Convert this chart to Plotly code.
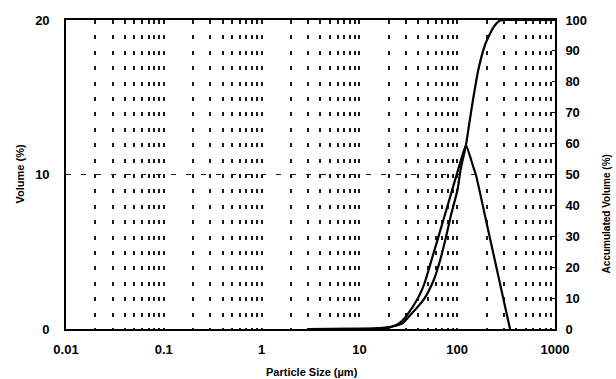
import plotly.graph_objects as go

# ---- data ----
freq_size = [3, 8, 12.8, 18.3, 23.1, 26.0, 29.5, 32.9, 37.0, 41.7, 46.0, 50.6, 64.1, 76.8, 102.6, 123, 146.1, 155.6, 208, 253.5, 303, 347]
freq_val = [0, 0.01, 0.02, 0.085, 0.23, 0.42, 0.75, 1.17, 1.67, 2.27, 2.9, 3.75, 5.95, 7.63, 10.35, 11.91, 10.49, 9.97, 6.36, 3.90, 1.68, 0]

cum_size = [3, 8, 12.8, 18.3, 27.3, 33.2, 45.2, 57.6, 67.0, 76.8, 86.4, 100.7, 108.1, 123.0, 133.6, 146.1, 164.3, 192.4, 233.9, 273.9, 308, 1000]
cum_val = [0, 0.02, 0.06, 0.26, 1.78, 4.53, 9.39, 15.86, 22.33, 29.77, 36.89, 44.98, 51.46, 59.55, 66.99, 74.76, 83.82, 91.91, 97.57, 99.84, 100, 100]

decades = [0.01, 0.1, 1, 10, 100, 1000]
decade_labels = ["0.01", "0.1", "1", "10", "100", "1000"]
multipliers = [1, 2, 3, 4, 5, 6, 7, 8, 9]

left_ticks = [0, 10, 20]
right_ticks = [0, 10, 20, 30, 40, 50, 60, 70, 80, 90, 100]

# grid / tick positions on the log axis
x_tickvals = []
x_ticktext = []
for d, lab in zip(decades, decade_labels):
    if d == 1000:
        x_tickvals.append(d)
        x_ticktext.append(lab)
        break
    for m in multipliers:
        x_tickvals.append(round(d * m, 6))
        x_ticktext.append(lab if m == 1 else "")

FONT = "Liberation Sans"

fig = go.Figure()
fig.add_trace(go.Scatter(
    x=freq_size, y=freq_val, mode="lines",
    line=dict(color="black", width=2.2, shape="spline", smoothing=0.4),
    yaxis="y", showlegend=False, hoverinfo="skip"))
fig.add_trace(go.Scatter(
    x=cum_size, y=cum_val, mode="lines",
    line=dict(color="black", width=2.2, shape="spline", smoothing=0.6),
    yaxis="y2", showlegend=False, hoverinfo="skip"))

fig.update_layout(
    width=616, height=379,
    margin=dict(l=66, r=61, t=20, b=50),
    paper_bgcolor="white", plot_bgcolor="white",
    font=dict(family=FONT, color="black", size=13, weight="bold"),
    xaxis=dict(
        type="log", range=[-2, 3],
        tickmode="array", tickvals=x_tickvals, ticktext=x_ticktext,
        ticks="", showgrid=True, gridcolor="#1a1a1a", gridwidth=1.5,
        griddash="4px,11.4px",
        showline=True, linecolor="black", linewidth=1.6, mirror=True,
        zeroline=False, tickfont=dict(size=13, family=FONT, weight="bold"),
        ticklabelstandoff=8,
    ),
    yaxis=dict(
        range=[0, 20], tickmode="array", tickvals=left_ticks,
        ticks="", showgrid=True, gridcolor="#1a1a1a", gridwidth=1.2,
        griddash="5px,10px", zeroline=False,
        showline=True, linecolor="black", linewidth=1.6,
        tickfont=dict(size=13, family=FONT, weight="bold"),
        ticklabelstandoff=12,
    ),
    yaxis2=dict(
        range=[0, 100], overlaying="y", side="right",
        tickmode="array", tickvals=right_ticks,
        ticks="inside", ticklen=3, tickwidth=1.2, tickcolor="black",
        showgrid=False, zeroline=False,
        showline=True, linecolor="black", linewidth=1.6,
        tickfont=dict(size=13, family=FONT, weight="bold"),
        ticklabelstandoff=6,
    ),
    annotations=[
        dict(text="Volume (%)", xref="paper", yref="paper", x=-0.0961, y=0.5,
             textangle=-90, showarrow=False, xanchor="center", yanchor="middle",
             font=dict(size=11, family=FONT, weight="bold")),
        dict(text="Particle Size (\u00b5m)", xref="paper", yref="paper", x=0.503, y=-0.139,
             showarrow=False, xanchor="center", yanchor="middle",
             font=dict(size=11, family=FONT, weight="bold")),
        dict(text="Accumulated Volume (%)", xref="paper", yref="paper", x=1.105, y=0.372,
             textangle=-90, showarrow=False, xanchor="center", yanchor="middle",
             font=dict(size=10, family=FONT, weight="bold")),
    ],
)

fig.write_html("out.html")
